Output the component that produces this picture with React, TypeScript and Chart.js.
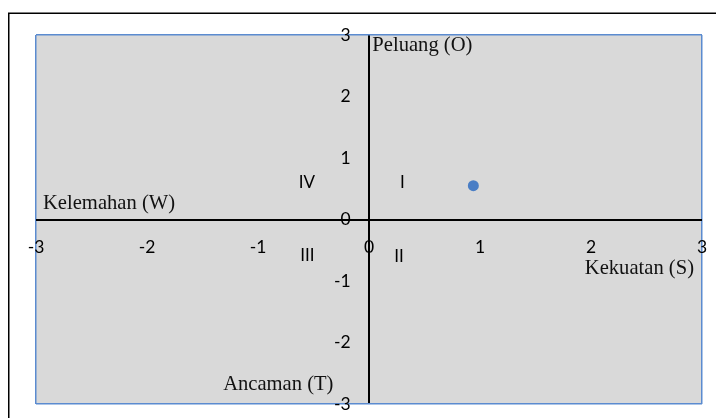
import { useEffect, useRef } from 'react';
import { Chart, registerables } from 'chart.js';

Chart.register(...registerables);

// Data
const pointX = [0.94];
const pointY = [0.55];
const xTickValues = [-3, -2, -1, 0, 1, 2, 3];
const yTickValues = [-3, -2, -1, 0, 1, 2, 3];
const axisTitles = ['Peluang (O)', 'Kelemahan (W)', 'Kekuatan (S)', 'Ancaman (T)'];
const quadrantNames = ['I', 'II', 'III', 'IV'];

// Annotation placement (data coordinates)
const axisTitlePos = [
  { x: 0.03, y: 2.74, align: 'left' },
  { x: -2.937, y: 0.17, align: 'left' },
  { x: 2.928, y: -0.886, align: 'right' },
  { x: -0.32, y: -2.772, align: 'right' },
];
const quadrantPos = [
  { x: 0.3, y: 0.512 },
  { x: 0.27, y: -0.69 },
  { x: -0.555, y: -0.675 },
  { x: -0.56, y: 0.512 },
];

const BLUE = '#5B8BD0';
const SANS = 'Lato, "Open Sans", sans-serif';
const SERIF = '"Liberation Serif", "Times New Roman", serif';

const lineColor = (v: number) =>
  v === 0 ? '#000' : Math.abs(v) === 3 ? BLUE : 'rgba(0,0,0,0)';
const lineWidth = (v: number) => (v === 0 ? 2 : 1.5);

const decorPlugin = {
  id: 'decor',
  beforeDraw(chart: any) {
    const { ctx, chartArea: a } = chart;
    ctx.save();
    ctx.fillStyle = '#fff';
    ctx.fillRect(0, 0, chart.width, chart.height);
    ctx.fillStyle = '#D9D9D9';
    ctx.fillRect(a.left, a.top, a.right - a.left, a.bottom - a.top);
    ctx.strokeStyle = '#000';
    ctx.lineWidth = 1.5;
    ctx.beginPath();
    ctx.moveTo(8.75, chart.height + 2);
    ctx.lineTo(8.75, 13.25);
    ctx.lineTo(chart.width + 2, 13.25);
    ctx.stroke();
    ctx.restore();
  },
  afterDatasetsDraw(chart: any) {
    const { ctx } = chart;
    const xs = chart.scales.x;
    const ys = chart.scales.y;
    ctx.save();
    ctx.fillStyle = '#111';
    ctx.textBaseline = 'alphabetic';
    ctx.font = `20.6px ${SERIF}`;
    axisTitles.forEach((t, i) => {
      const p = axisTitlePos[i];
      ctx.textAlign = p.align;
      ctx.fillText(t, xs.getPixelForValue(p.x), ys.getPixelForValue(p.y));
    });
    ctx.font = `17px ${SANS}`;
    ctx.fillStyle = '#000';
    ctx.textAlign = 'center';
    quadrantNames.forEach((t, i) => {
      const p = quadrantPos[i];
      ctx.fillText(t, xs.getPixelForValue(p.x), ys.getPixelForValue(p.y));
    });
    ctx.restore();
  },
};

export default function App() {
  const ref = useRef<HTMLCanvasElement>(null);
  useEffect(() => {
    if (!ref.current) return;
    const chart = new Chart(ref.current, {
      type: 'scatter',
      data: {
        datasets: [
          {
            data: pointX.map((x, i) => ({ x, y: pointY[i] })),
            backgroundColor: '#4A7EC5',
            borderWidth: 0,
            pointRadius: 5.5,
          },
        ],
      },
      options: {
        animation: false,
        responsive: false,
        events: [],
        layout: { padding: { left: 36, top: 35, right: 14, bottom: 14 } },
        plugins: { legend: { display: false }, tooltip: { enabled: false } },
        scales: {
          x: {
            type: 'linear',
            position: { y: 0 } as any,
            min: -3,
            max: 3,
            afterFit: (s: any) => { s.height = 0; },
            afterBuildTicks: (s: any) => { s.ticks = xTickValues.map((v) => ({ value: v })); },
            border: { display: false },
            grid: {
              drawTicks: true,
              tickLength: 14,
              tickColor: 'rgba(0,0,0,0)',
              color: (c: any) => lineColor(c.tick ? c.tick.value : NaN),
              lineWidth: (c: any) => lineWidth(c.tick ? c.tick.value : NaN),
            },
            ticks: {
              padding: 3,
              color: '#000',
              font: { family: SANS, size: 17.5 },
              maxRotation: 0,
              autoSkip: false,
              callback: (v: any) => String(v),
            },
          },
          y: {
            type: 'linear',
            position: { x: -0.165 } as any,
            min: -3,
            max: 3,
            afterFit: (s: any) => { s.width = 0; },
            afterBuildTicks: (s: any) => { s.ticks = yTickValues.map((v) => ({ value: v })); },
            border: { display: false },
            grid: {
              drawTicks: false,
              color: (c: any) => lineColor(c.tick ? c.tick.value : NaN),
              lineWidth: (c: any) => lineWidth(c.tick ? c.tick.value : NaN),
            },
            ticks: {
              padding: 0,
              color: '#000',
              font: { family: SANS, size: 17.5 },
              autoSkip: false,
              callback: (v: any) => String(v),
            },
          },
        },
      },
      plugins: [decorPlugin],
    });
    return () => chart.destroy();
  }, []);
  return (
    <div style={{ position: 'fixed', left: 0, top: 0, width: 716, height: 418 }}>
      <canvas ref={ref} width={716} height={418} style={{ display: 'block' }} />
    </div>
  );
}
